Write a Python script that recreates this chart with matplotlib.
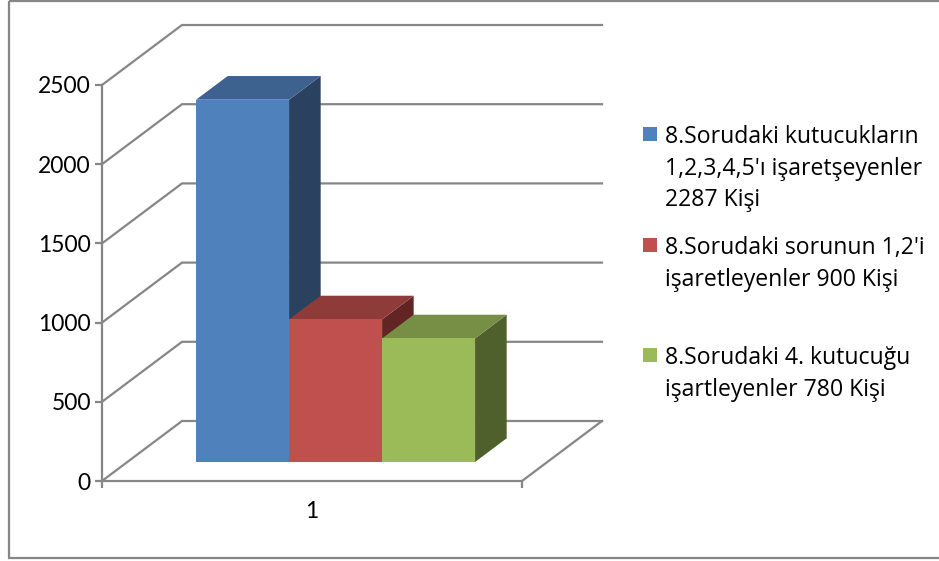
# 3D looking column chart, drawn on a normal axes with a shear for the depth
import matplotlib
matplotlib.use('Agg')
import matplotlib.pyplot as plt
from matplotlib.patches import Polygon, Rectangle

plt.rcParams['font.family'] = ['Lato', 'DejaVu Sans']

values = [2287, 900, 780]
labels = ["8.Sorudaki kutucukların\n1,2,3,4,5'ı işaretşeyenler\n2287 Kişi",
          "8.Sorudaki sorunun 1,2'i\nişaretleyenler 900 Kişi",
          "8.Sorudaki 4. kutucuğu\nişartleyenler 780 Kişi"]
front_colors = ['#4F81BD', '#C0504D', '#9BBB59']
top_colors = ['#3E628F', '#8E3B39', '#778E45']
side_colors = ['#2A4260', '#632523', '#4F602C']
yticks = [0, 500, 1000, 1500, 2000, 2500]
category = '1'

W, H = 939, 561
GRAY = '#868686'

fig = plt.figure(figsize=(W / 100, H / 100), dpi=100)
# the axes is the front plane of the box
ax = fig.add_axes([102 / W, 1 - 481 / H, 420 / W, 396 / H])
ax.set_xlim(0.5, 1.5)
ax.set_ylim(0, 2500)

# depth shear of the whole box, in data units
depth_x = 80 / 420
depth_y = 60 / (396 / 2500)


def shear(x, y, d):
    return (x + d * depth_x, y + d * depth_y)


# walls and floor
for y in yticks:
    xs, ys = zip(shear(0.5, y, 0), shear(0.5, y, 1), shear(1.5, y, 1))
    ax.plot(xs, ys, color=GRAY, lw=1.6, clip_on=False, zorder=1, solid_joinstyle='miter')
xs, ys = zip(shear(1.5, 0, 1), shear(1.5, 0, 0))
ax.plot(xs, ys, color=GRAY, lw=1.6, clip_on=False, zorder=1)

# bars
bar_w = 93 / 420
d0, d1 = 0.317, 0.712
left = 0.6636
for i, v in enumerate(values):
    x0 = left + i * bar_w
    x1 = x0 + bar_w
    z = 3 + i
    front = [shear(x0, 0, d0), shear(x1, 0, d0), shear(x1, v, d0), shear(x0, v, d0)]
    top = [shear(x0, v, d0), shear(x1, v, d0), shear(x1, v, d1), shear(x0, v, d1)]
    side = [shear(x1, 0, d0), shear(x1, 0, d1), shear(x1, v, d1), shear(x1, v, d0)]
    ax.add_patch(Polygon(side, fc=side_colors[i], ec='none', clip_on=False, zorder=z))
    ax.add_patch(Polygon(top, fc=top_colors[i], ec='none', clip_on=False, zorder=z))
    ax.add_patch(Polygon(front, fc=front_colors[i], ec='none', clip_on=False, zorder=z))

for s in ['top', 'right']:
    ax.spines[s].set_visible(False)
for s in ['left', 'bottom']:
    ax.spines[s].set_color(GRAY)
    ax.spines[s].set_linewidth(1.6)
ax.set_yticks(yticks)
ax.set_xticks([0.5, 1.5])
ax.set_xticklabels(['', ''])
ax.tick_params(axis='both', color=GRAY, width=1.6, length=5, labelsize=16.5, pad=3)
ax.text(1, -125, category, fontsize=16.5, ha='center', va='top')
ax.patch.set_alpha(0)

# legend, every line placed on its own baseline
overlay = fig.add_axes([0, 0, 1, 1], zorder=10)
overlay.set_xlim(0, W)
overlay.set_ylim(H, 0)
overlay.axis('off')
swatch_y = [127, 238, 348]
for i, lab in enumerate(labels):
    overlay.add_patch(Rectangle((643, swatch_y[i]), 14, 14, fc=front_colors[i], ec='none'))
    for k, line in enumerate(lab.split('\n')):
        overlay.text(665, swatch_y[i] + 16 + k * 31.7, line, fontsize=16.6,
                     family=['Open Sans', 'DejaVu Sans'], va='baseline', ha='left')

# outer frame
overlay.add_patch(Rectangle((9, 1), 960, 557, fc='none', ec=GRAY, lw=1.6, clip_on=True))

fig.savefig('out.png', dpi=100)
